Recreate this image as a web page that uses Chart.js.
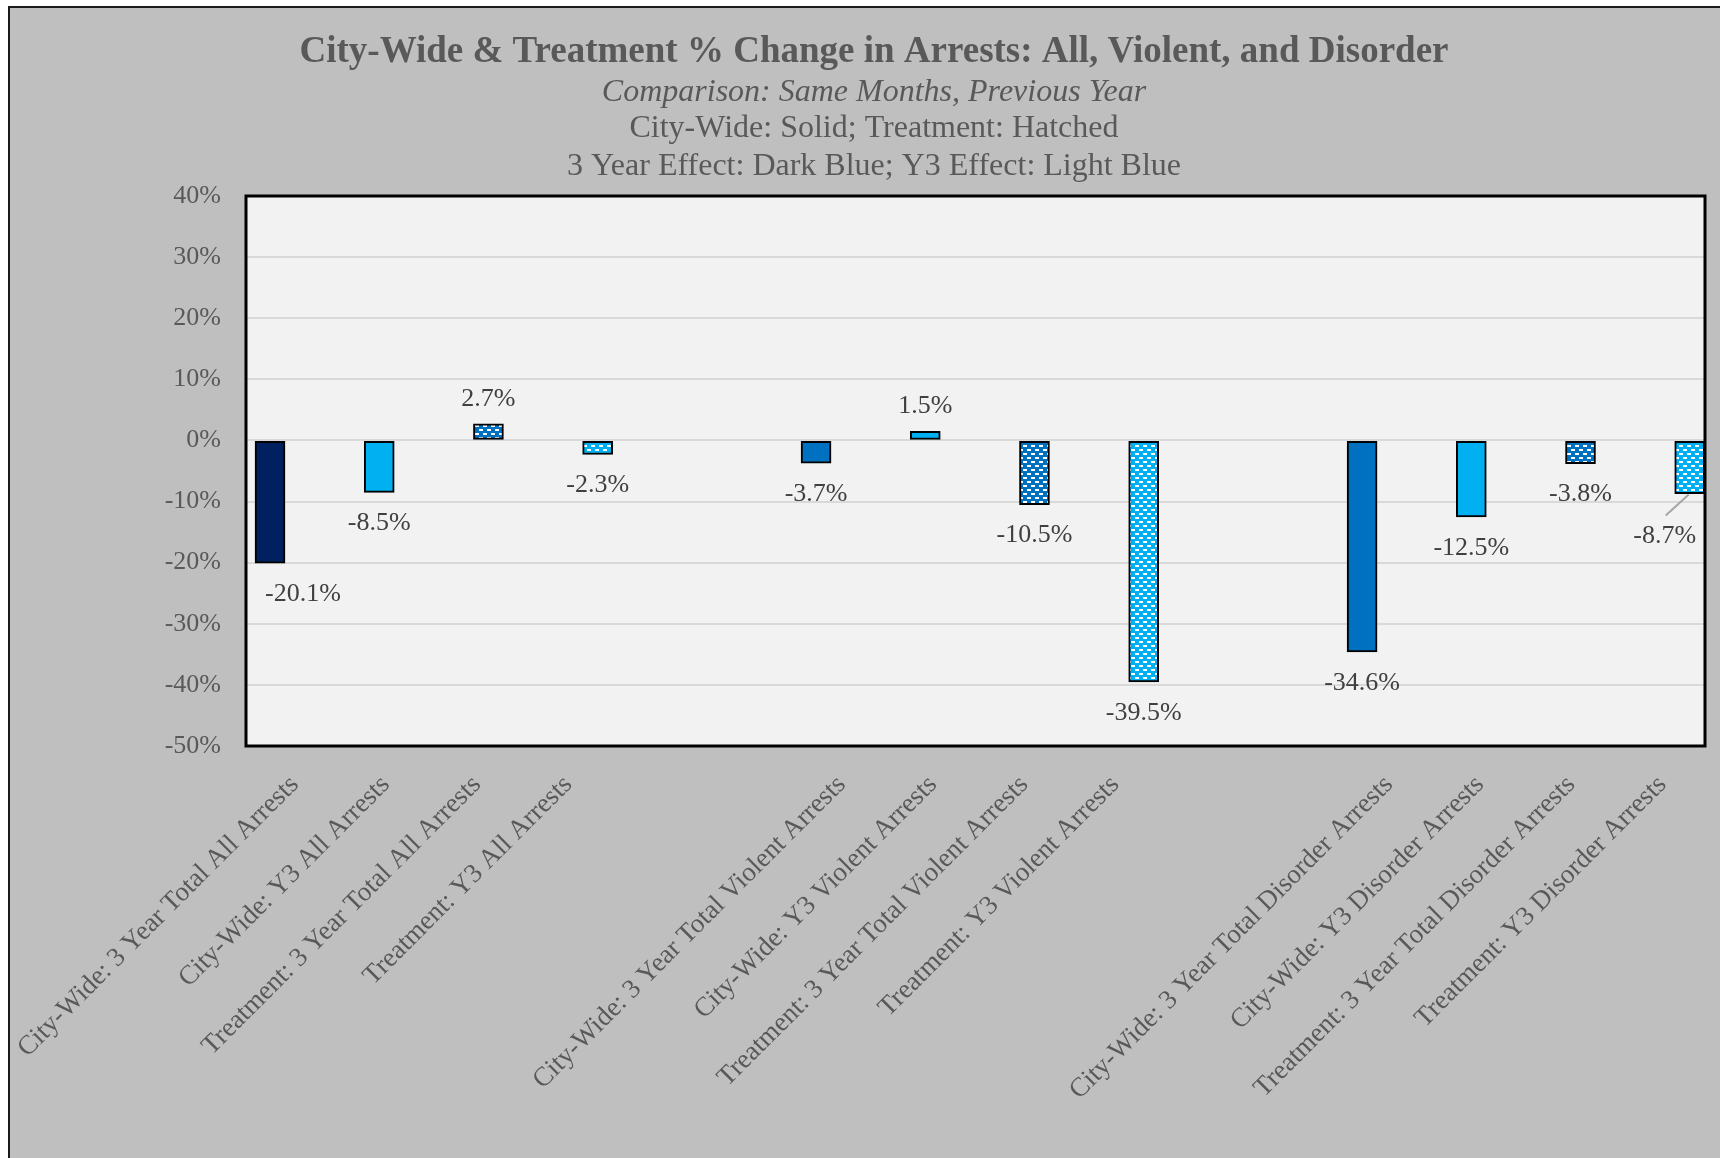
<!DOCTYPE html>
<html>
<head>
<meta charset="utf-8">
<script src="https://cdn.jsdelivr.net/npm/chart.js@4.4.1/dist/chart.umd.min.js"></script>
<style>
  html, body { margin: 0; padding: 0; background: #fff; overflow: hidden; width: 1720px; height: 1158px; }
  #wrap { position: absolute; left: 8px; top: 6px; width: 1728px; height: 1160px;
          border-left: 2px solid #1a1a1a; border-top: 2px solid #1a1a1a; background: #bfbfbf; }
</style>
</head>
<body>
<div id="wrap"><canvas id="chart" width="1728" height="1160"></canvas></div>
<script>
// three groups of four bars
const groups = ["All", "Violent", "Disorder"];
const categories = [
  "City-Wide: 3 Year Total All Arrests",
  "City-Wide: Y3 All Arrests",
  "Treatment: 3 Year Total All Arrests",
  "Treatment: Y3 All Arrests",
  "City-Wide: 3 Year Total Violent Arrests",
  "City-Wide: Y3 Violent Arrests",
  "Treatment: 3 Year Total Violent Arrests",
  "Treatment: Y3 Violent Arrests",
  "City-Wide: 3 Year Total Disorder Arrests",
  "City-Wide: Y3 Disorder Arrests",
  "Treatment: 3 Year Total Disorder Arrests",
  "Treatment: Y3 Disorder Arrests"
];
const pctChange = [-20.1, -8.5, 2.7, -2.3, -3.7, 1.5, -10.5, -39.5, -34.6, -12.5, -3.8, -8.7];
const yTicks = [-50, -40, -30, -20, -10, 0, 10, 20, 30, 40];

const titleText = "City-Wide & Treatment % Change in Arrests: All, Violent, and Disorder";
const subtitleLines = [
  "Comparison: Same Months, Previous Year",
  "City-Wide: Solid; Treatment: Hatched",
  "3 Year Effect: Dark Blue; Y3 Effect: Light Blue"
];

const NAVY = "#002060", MID = "#0070C0", LIGHT = "#00B0F0";
const SERIF = "'Liberation Serif', 'Times New Roman', serif";
const PER_GROUP = 4;

function hatch(color) {
  const c = document.createElement("canvas");
  c.width = 8; c.height = 8;
  const g = c.getContext("2d");
  g.fillStyle = color;
  g.fillRect(0, 0, 8, 8);
  g.fillStyle = "#fff";
  g.fillRect(1, 1, 4, 2);
  g.fillRect(5, 5, 3, 2);
  g.fillRect(0, 5, 1, 2);
  return g.createPattern(c, "repeat");
}

const fills = [NAVY, LIGHT, hatch(MID), hatch(LIGHT),
               MID, LIGHT, hatch(MID), hatch(LIGHT),
               MID, LIGHT, hatch(MID), hatch(LIGHT)];

// bars: one empty slot between groups; axis labels: two empty categories between groups
const barSlot = i => Math.floor(i / PER_GROUP) * (PER_GROUP + 1) + (i % PER_GROUP);
const tickLabels = [];
groups.forEach((g, gi) => {
  if (gi > 0) tickLabels.push("", "");
  tickLabels.push(...categories.slice(gi * PER_GROUP, (gi + 1) * PER_GROUP));
});

// label nudges in px where the original moved a label by hand
const labelNudge = { 0: [33, 0], 11: [-25, 12] };

const frame = {
  id: "frame",
  beforeDraw(chart) {
    const { ctx, chartArea: a } = chart;
    ctx.save();
    ctx.fillStyle = "#f2f2f2";
    ctx.fillRect(a.left, a.top, a.right - a.left, a.bottom - a.top);
    ctx.restore();
  },
  afterDraw(chart) {
    const { ctx, chartArea: a } = chart;
    ctx.save();
    ctx.strokeStyle = "#000";
    ctx.lineWidth = 3;
    ctx.strokeRect(a.left, a.top, a.right - a.left, a.bottom - a.top);

    ctx.fillStyle = "#595959";
    ctx.textAlign = "center";
    ctx.textBaseline = "middle";
    const cx = 864;
    ctx.font = "bold 37px " + SERIF;
    ctx.fillText(titleText, cx, 44);
    ctx.font = "italic 32px " + SERIF;
    ctx.fillText(subtitleLines[0], cx, 85);
    ctx.font = "32px " + SERIF;
    ctx.fillText(subtitleLines[1], cx, 121);
    ctx.fillText(subtitleLines[2], cx, 159);
    ctx.restore();
  },
  afterDatasetsDraw(chart) {
    const { ctx } = chart;
    const meta = chart.getDatasetMeta(0);
    ctx.save();
    ctx.font = "26px " + SERIF;
    ctx.fillStyle = "#404040";
    ctx.textAlign = "center";
    ctx.textBaseline = "middle";
    meta.data.forEach((bar, i) => {
      const v = pctChange[i];
      const nudge = labelNudge[i] || [0, 0];
      const x = bar.x + nudge[0];
      const y = (v < 0 ? bar.y + 31 : bar.y - 25) + nudge[1];
      if (i === 11) {
        ctx.strokeStyle = "#a6a6a6";
        ctx.lineWidth = 2;
        ctx.beginPath();
        ctx.moveTo(bar.x - 1, bar.y + 1);
        ctx.lineTo(x + 1, y - 21);
        ctx.stroke();
      }
      ctx.fillText(v.toFixed(1) + "%", x, y);
    });
    ctx.restore();
  }
};

new Chart(document.getElementById("chart"), {
  type: "bar",
  data: {
    datasets: [{
      xAxisID: "xb",
      data: pctChange.map((v, i) => ({ x: barSlot(i), y: v })),
      backgroundColor: fills,
      borderColor: "#000",
      borderWidth: 2,
      borderSkipped: false,
      barThickness: 30
    }]
  },
  options: {
    responsive: false,
    animation: false,
    layout: { autoPadding: false, padding: { top: 188, right: 33, left: 0, bottom: 0 } },
    plugins: { legend: { display: false }, tooltip: { enabled: false } },
    scales: {
      xb: {
        type: "linear",
        position: "bottom",
        display: false,
        offset: false,
        min: -0.22,
        max: 13.14
      },
      x: {
        type: "category",
        position: "bottom",
        labels: tickLabels,
        offset: true,
        grid: { display: false, drawTicks: false },
        border: { display: false },
        afterFit(axis) {
          axis.height = 422;
          axis.paddingLeft = 0;
          axis.paddingRight = 0;
        },
        ticks: {
          autoSkip: false,
          minRotation: 45,
          maxRotation: 45,
          padding: 23,
          labelOffset: 3,
          color: "#595959",
          font: { family: SERIF, size: 27 }
        }
      },
      y: {
        min: -50,
        max: 40,
        afterBuildTicks(axis) { axis.ticks = yTicks.map(v => ({ value: v })); },
        afterFit(axis) { axis.width = 236; },
        grid: { color: "#d9d9d9", lineWidth: 2, drawTicks: false },
        border: { display: false },
        ticks: {
          padding: 25,
          color: "#595959",
          font: { family: SERIF, size: 26 },
          callback: v => v + "%"
        }
      }
    }
  },
  plugins: [frame]
});
</script>
</body>
</html>
